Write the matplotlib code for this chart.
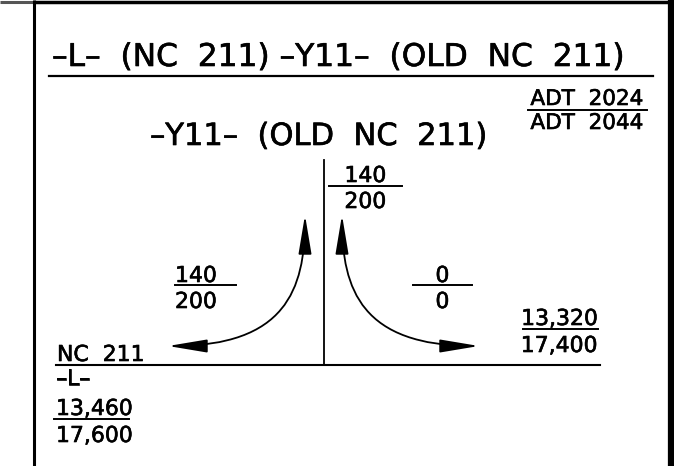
import matplotlib
matplotlib.use("Agg")
import matplotlib.pyplot as plt
import matplotlib.patheffects as pe
from matplotlib.patches import FancyArrowPatch
from matplotlib.path import Path

plt.rcParams['font.family'] = ['DejaVu Sans']

# texts of the diagram
title = "–L–  (NC  211) –Y11–  (OLD  NC  211)"
subtitle = "–Y11–  (OLD  NC  211)"
legend_top = "ADT  2024"
legend_bot = "ADT  2044"
main_road = "NC  211"
main_code = "–L–"

# volumes (2024 over 2044)
side_in = ["140", "200"]     # on -Y11- north of the junction
left_turn = ["140", "200"]   # left <-> up
right_turn = ["0", "0"]      # right <-> up
east_adt = ["13,320", "17,400"]
west_adt = ["13,460", "17,600"]

fig = plt.figure(figsize=(6.74, 4.66), dpi=100)
ax = fig.add_axes([0, 0, 1, 1])
ax.set_xlim(0, 674)
ax.set_ylim(466, 0)
ax.axis('off')

k = 'black'
fs = 15.8  # small labels
bold = [pe.withStroke(linewidth=0.45, foreground=k)]


def label(x, y, s, size=fs, ha='left'):
    ax.text(x, y, s, fontsize=size, ha=ha, va='baseline', path_effects=bold)


# frame
ax.plot([0, 33], [1.5, 1.5], color='#555555', lw=2.2, solid_capstyle='butt')
ax.plot([33, 674], [1.5, 1.5], color=k, lw=2.5, solid_capstyle='butt')
ax.plot([33.5, 33.5], [0, 466], color=k, lw=2.2, solid_capstyle='butt')
ax.plot([671, 671], [0, 466], color=k, lw=4.5, solid_capstyle='butt')

# title
label(52, 66, title, size=22.5)
ax.plot([49, 653], [76, 76], color=k, lw=1.6)

# legend
label(587, 105, legend_top, size=15.5, ha='center')
ax.plot([528, 647], [110, 110], color=k, lw=1.4)
label(587, 129, legend_bot, size=15.5, ha='center')

label(150, 145, subtitle, size=22)

# roads
ax.plot([56, 600], [365, 365], color=k, lw=1.5)
ax.plot([323.5, 323.5], [160, 365], color=k, lw=1.3)


def frac(y1, y2, yl, x0, x1, vals, ha='center'):
    xt = {'center': (x0 + x1) / 2, 'left': x0, 'right': x1}[ha]
    label(xt, y1, vals[0], ha=ha)
    ax.plot([x0, x1], [yl, yl], color=k, lw=1.4)
    label(xt, y2, vals[1], ha=ha)


frac(182, 208, 186, 329, 402, side_in)
frac(282, 308, 285, 175, 236, left_turn, ha='left')
frac(282, 308, 285, 413, 472, right_turn)
frac(325, 352, 329, 523, 598, east_adt, ha='right')

label(57, 361, main_road)
label(56, 385, main_code)
label(56, 415, west_adt[0])
ax.plot([54, 129], [419, 419], color=k, lw=1.4)
label(56, 442, west_adt[1])

# turning arrows
codes = [Path.MOVETO, Path.CURVE4, Path.CURVE4, Path.CURVE4]
left_path = Path([(168, 346), (285, 346), (305, 290), (305, 215)], codes)
right_path = Path([(479, 346), (362, 346), (342, 290), (342, 215)], codes)
for p in (left_path, right_path):
    arr = FancyArrowPatch(path=p, arrowstyle='<|-|>,head_length=24,head_width=4',
                          mutation_scale=1, color=k, lw=1.3)
    ax.add_patch(arr)

fig.savefig('out.png', dpi=100)
